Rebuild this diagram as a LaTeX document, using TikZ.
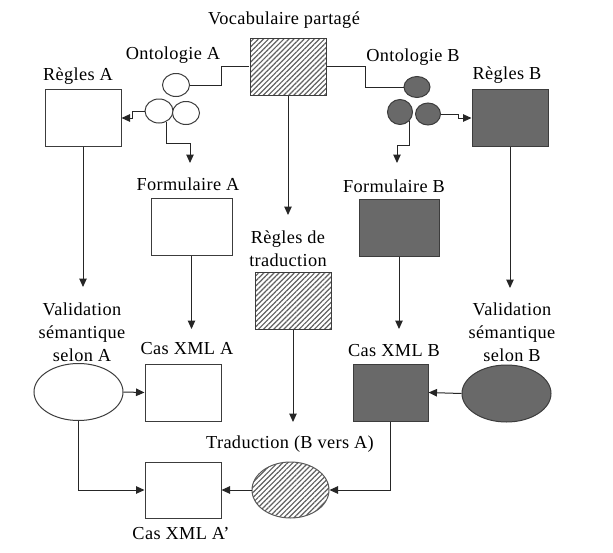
\documentclass[tikz,border=0pt]{standalone}
\usepackage{fontspec}
\setmainfont{Liberation Serif}
\newfontfamily\tmsfont{Liberation Serif}[LetterSpace=2]
\usetikzlibrary{arrows.meta,shapes.geometric,patterns.meta}
\definecolor{dgray}{RGB}{105,105,105}
\definecolor{dborder}{RGB}{60,60,60}
\begin{document}
\begin{tikzpicture}[x=1pt,y=-1pt,
  lbl/.style={font=\tmsfont\fontsize{18.3}{23}\selectfont, align=center, inner sep=0pt},
  wbox/.style={draw=dborder, line width=1pt, fill=white, minimum width=76pt, minimum height=57pt, inner sep=0pt},
  gbox/.style={wbox, fill=dgray},
  hbox/.style={wbox, pattern={Lines[angle=45,distance=3.6pt,line width=1.2pt]}, pattern color=gray!75!black},
  wcirc/.style={ellipse, draw=dborder, line width=1pt, fill=white, minimum width=27pt, minimum height=23pt, inner sep=0pt},
  gcirc/.style={wcirc, fill=dgray},
  well/.style={ellipse, draw=dborder, line width=1pt, fill=white, minimum width=89pt, minimum height=57pt, inner sep=0pt},
  gell/.style={well, fill=dgray},
  hell/.style={well, minimum width=77pt, minimum height=56pt, draw=gray!70!black, pattern={Lines[angle=45,distance=3.6pt,line width=1.2pt]}, pattern color=gray!75!black},
  conn/.style={draw=black!85, line width=1pt},
  arr/.style={conn, -{Triangle[length=8.5pt,width=7.5pt]}}]
\useasboundingbox (0,0) rectangle (613,552);

% labels
\node[lbl] (lvoc) at (284,20) {Vocabulaire partagé};
\node[lbl] (lonA) at (173,55) {Ontologie A};
\node[lbl] (lonB) at (413,57) {Ontologie B};
\node[lbl] (lrA) at (78,76) {Règles A};
\node[lbl] (lrB) at (507,75) {Règles B};
\node[lbl] (lfA) at (188,184) {Formulaire A};
\node[lbl] (lfB) at (394,186) {Formulaire B};
\node[lbl] (lrt) at (288,249) {Règles de\\traduction};
\node[lbl] (lvA) at (82,332) {Validation\\sémantique\\selon A};
\node[lbl] (lvB) at (512,332) {Validation\\sémantique\\selon B};
\node[lbl] (lcA) at (187,349) {Cas XML A};
\node[lbl] (lcB) at (394,351) {Cas XML B};
\node[lbl] (ltr) at (290,444) {Traduction (B vers A)};
\node[lbl] (lcAp) at (181,533) {Cas XML A’};

% shapes
\node[hbox] (vocab) at (288,66.5) {};
\node[wcirc] (oa1) at (176,85) {};
\node[wcirc, minimum width=28pt, minimum height=24pt] (oa2) at (159,111) {};
\node[wcirc] (oa3) at (186,113) {};
\node[gcirc, minimum width=26pt, minimum height=21pt] (ob1) at (417,87) {};
\node[gcirc, minimum width=25pt, minimum height=25pt] (ob2) at (400,112) {};
\node[gcirc, minimum width=25pt, minimum height=22pt] (ob3) at (428,114) {};
\node[wbox] (reglesA) at (83,118) {};
\node[gbox] (reglesB) at (510,118) {};
\node[wbox, minimum width=81pt] (formA) at (191.5,226.5) {};
\node[gbox, minimum width=80pt] (formB) at (399,227.5) {};
\node[hbox] (regtrad) at (293,301) {};
\node[well] (valA) at (78.5,392) {};
\node[gell] (valB) at (506.5,393.5) {};
\node[wbox] (casA) at (183,392.5) {};
\node[gbox, minimum width=75pt] (casB) at (390.5,392.5) {};
\node[hell] (trad) at (290.5,490) {};
\node[wbox, minimum height=56pt] (casAp) at (183,490) {};

% arrow end points
\coordinate (fAin) at (190,163);
\coordinate (fBin) at (397,163);
\coordinate (rtin) at (288,215);
\coordinate (vAin) at (83,287);
\coordinate (vBin) at (510,288);
\coordinate (cAin) at (191.5,329);
\coordinate (cBin) at (399,329);
\coordinate (trin) at (293,422);

% connectors
\draw[conn] (oa1.east) -- ++(31,0) |- (vocab.west);
\draw[conn] (vocab.east) -- ++(39,0) |- (ob1.west);
\draw[arr] (oa2.west) -- ++(-12,0) |- (reglesA.east);
\draw[arr] (oa2.-55) |- (fAin |- 0,143) -- (fAin);
\draw[arr] (ob3.east) -- ++(17,0) |- (reglesB.west);
\draw[arr] (ob2.-44) |- (fBin |- 0,145) -- (fBin);
\draw[arr] (vocab.south) -- (rtin);
\draw[arr] (reglesA.south) -- (vAin);
\draw[arr] (reglesB.south) -- (vBin);
\draw[arr] (formA.south) -- (cAin);
\draw[arr] (formB.south) -- (cBin);
\draw[arr] (regtrad.south) -- (trin);
\draw[arr] (valA.east) -- (casA.west);
\draw[arr] (valB.west) -- (casB.east);
\draw[arr] (valA.south) |- (casAp.west);
\draw[arr] (casB.south) |- (trad.east);
\draw[arr] (trad.west) -- (casAp.east);
\end{tikzpicture}
\end{document}
